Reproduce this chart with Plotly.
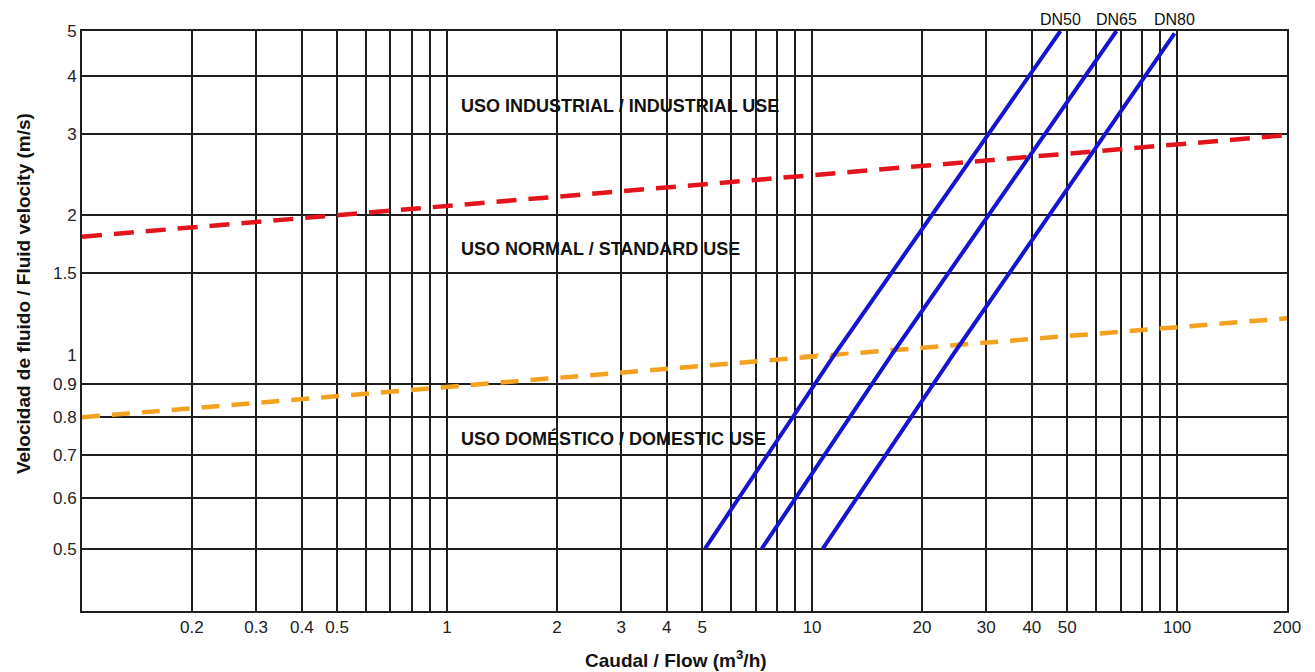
import math
import plotly.graph_objects as go
from plotly.subplots import make_subplots

# ---------------- data ----------------
x_tick_vals = [0.2, 0.3, 0.4, 0.5, 0.6, 0.7, 0.8, 0.9, 1, 2, 3, 4, 5, 6, 7, 8, 9,
               10, 20, 30, 40, 50, 60, 70, 80, 90, 100, 200]
x_tick_text = ["0.2", "0.3", "0.4", "0.5", "", "", "", "", "1", "2", "3", "4", "5",
               "", "", "", "", "10", "20", "30", "40", "50", "", "", "", "", "100", "200"]
y_upper_ticks = [1, 1.5, 2, 3, 4, 5]
y_upper_text = ["", "1.5", "2", "3", "4", "5"]
y_lower_ticks = [0.5, 0.6, 0.7, 0.8, 0.9, 1]
y_lower_text = ["0.5", "0.6", "0.7", "0.8", "0.9", "1"]

x_min, x_max = 0.1, 200
y_min, y_break, y_max = 0.4, 1.0, 5.0

industrial_q = [0.1, 200]
industrial_v = [1.8, 2.98]
domestic_q = [0.1, 11.4, 200]
domestic_v = [0.8, 1.0, 1.2]

dn_names = ["DN50", "DN65", "DN80"]
dn50_q = [5.09, 11.5, 47.9]
dn50_v = [0.5, 1.0, 5.0]
dn65_q = [7.28, 16.5, 68.2]
dn65_v = [0.5, 1.0, 5.0]
dn80_q = [10.7, 24.3, 98.4]
dn80_v = [0.5, 1.0, 4.94]

zone_labels = ["USO INDUSTRIAL / INDUSTRIAL USE",
               "USO NORMAL / STANDARD USE",
               "USO DOMÉSTICO / DOMESTIC USE"]

# ---------------- figure ----------------
FONT = "Liberation Sans, Arial, sans-serif"
GRID = "#1e1e1e"
# upper region (1..5) ~464 px/decade, lower region (0.4..1) ~640 px/decade
upper_px = 324
lower_px = 256

fig = make_subplots(rows=2, cols=1, shared_xaxes=True, vertical_spacing=0,
                    row_heights=[upper_px, lower_px])

series = [
    (industrial_q, industrial_v, dict(color="#e3141b", width=4.5, dash="20px,12px")),
    (domestic_q, domestic_v, dict(color="#f3a11f", width=4.5, dash="18px,12px")),
    (dn50_q, dn50_v, dict(color="#1414d2", width=4)),
    (dn65_q, dn65_v, dict(color="#1414d2", width=4)),
    (dn80_q, dn80_v, dict(color="#1414d2", width=4)),
]
for q, v, ln in series:
    for row in (1, 2):
        fig.add_trace(go.Scatter(x=q, y=v, mode="lines", line=ln,
                                 showlegend=False, hoverinfo="x+y"),
                      row=row, col=1)

grid_common = dict(showgrid=True, gridcolor=GRID, gridwidth=1.5,
                   ticks="", zeroline=False)
tickfont = dict(family=FONT, size=17, color="#222")

fig.update_xaxes(type="log", range=[math.log10(x_min), math.log10(x_max)],
                 tickmode="array", tickvals=x_tick_vals, ticktext=x_tick_text,
                 tickfont=tickfont, showline=True, linecolor=GRID, linewidth=2,
                 mirror=False, **grid_common)
fig.update_xaxes(showticklabels=False, side="top", row=1, col=1)
fig.update_yaxes(type="log", range=[math.log10(y_break), math.log10(y_max)],
                 tickmode="array", tickvals=y_upper_ticks, ticktext=y_upper_text,
                 tickfont=tickfont, showline=True, linecolor=GRID, linewidth=2,
                 mirror=True, row=1, col=1, **grid_common)
fig.update_yaxes(type="log", range=[math.log10(y_min), math.log10(y_break)],
                 tickmode="array", tickvals=y_lower_ticks, ticktext=y_lower_text,
                 tickfont=tickfont, showline=True, linecolor=GRID, linewidth=2,
                 mirror=True, row=2, col=1, **grid_common)

annotations = []
# pipe size labels above line ends
for name, q in zip(dn_names, [dn50_q, dn65_q, dn80_q]):
    annotations.append(dict(x=math.log10(q[-1]), y=1, xref="x", yref="paper",
                            text=name, showarrow=False, yanchor="bottom",
                            yshift=1, font=dict(family=FONT, size=16, color="#111")))
# zone labels
for txt, yp in zip(zone_labels, [0.871, 0.624, 0.298]):
    annotations.append(dict(x=0.313, y=yp, xref="paper", yref="paper",
                            text="<b>" + txt + "</b>", showarrow=False,
                            xanchor="left", yanchor="middle",
                            font=dict(family=FONT, size=18, color="#111")))
# axis titles
annotations.append(dict(x=0.493, y=-0.083, xref="paper", yref="paper",
                        text="<b>Caudal / Flow (m<sup>3</sup>/h)</b>", showarrow=False,
                        xanchor="center", yanchor="middle",
                        font=dict(family=FONT, size=19, color="#111")))
annotations.append(dict(x=-0.049, y=0.548, xref="paper", yref="paper",
                        text="<b>Velocidad de fluido / Fluid velocity (m/s)</b>",
                        showarrow=False, textangle=-90,
                        xanchor="center", yanchor="middle",
                        font=dict(family=FONT, size=19, color="#111")))

# page body has an 8px default margin, so the figure is 8px smaller
fig.update_layout(width=1307, height=664,
                  margin=dict(l=74, r=28, t=23, b=61),
                  paper_bgcolor="white", plot_bgcolor="white",
                  annotations=annotations, showlegend=False)

fig.write_html("out.html")
